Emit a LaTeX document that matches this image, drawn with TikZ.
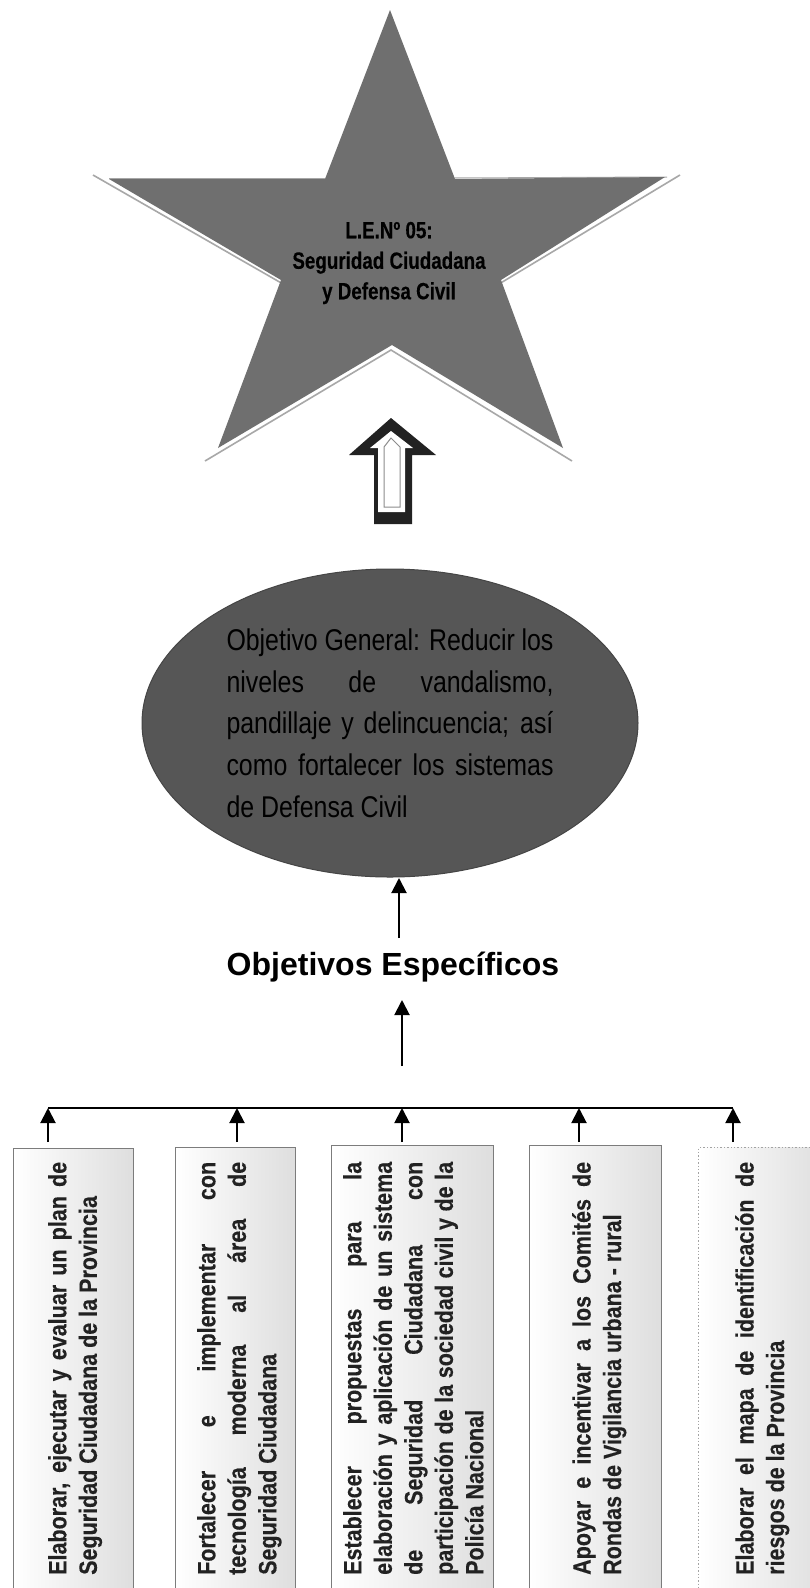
\documentclass[tikz,border=0pt]{standalone}
\usepackage{fontspec}
\setmainfont{Liberation Sans}
\newfontfamily\nr[FakeStretch=0.83]{Liberation Sans}
\newfontfamily\nrb[FakeStretch=0.86,FakeBold=0.25]{Liberation Sans Bold}
\newfontfamily\nrs[FakeStretch=0.8,FakeBold=0.25]{Liberation Sans Bold}
\usetikzlibrary{arrows.meta,shapes.geometric}
\definecolor{stargray}{HTML}{6F6F6F}
\definecolor{ellgray}{HTML}{565656}
\definecolor{shadowgray}{HTML}{A8A8A8}
\definecolor{boxedge}{HTML}{7C7C7C}
\definecolor{inkdark}{HTML}{222222}
\tikzset{
  conn/.style={draw=black,line width=2pt,-{Triangle[length=15pt,width=15pt]}},
  bus/.style={draw=black,line width=2pt},
  objbox/.style={draw=boxedge,line width=1.4pt,left color=white,right color=black!13,anchor=north west,inner sep=0pt},
  objtext/.style={rotate=90,anchor=north west,text width=413pt,inner sep=0pt,align=justify,text=inkdark,font=\nrb\fontsize{25}{30.5}\selectfont},
  goalnode/.style={ellipse,fill=ellgray,draw=ellgray!80!black,line width=1pt,minimum width=496pt,minimum height=308pt,inner sep=0pt,text width=327pt,align=justify,text=black,font=\nr\fontsize{30}{41.7}\selectfont},
  startext/.style={align=center,inner sep=0pt,text=black,font=\nrs\fontsize{23.5}{30.5}\selectfont},
  titletext/.style={inner sep=0pt,text=black,font=\bfseries\fontsize{32}{36}\selectfont},
}
\newcommand{\jset}{\tolerance=10000\hbadness=10000\hfuzz=30pt\hyphenpenalty=10000\exhyphenpenalty=10000\relax}
\begin{document}
\begin{tikzpicture}[x=1pt,y=-1pt]
\useasboundingbox (0,0) rectangle (810,1588);
\fill[white] (0,0) rectangle (810,1588);
% star shadow
\draw[shadowgray,line width=1.6pt,line join=miter] (93,175) -- (283,284);
\draw[shadowgray,line width=1.6pt,line join=miter] (205,461) -- (391,350) -- (572,461);
\draw[shadowgray,line width=1.6pt,line join=miter] (499,284) -- (680,175);
\draw[black!35,line width=1pt] (109,178) -- (325,178);
\draw[black!35,line width=1pt] (454,178) -- (667,177);
% star
\fill[stargray] (390,10) -- (455,179) -- (665,177) -- (501,280) -- (563,448) -- (392,345) -- (218,448) -- (281,280) -- (109,179) -- (325,179) -- cycle;
\node[startext] (startitle) at (389,263) {L.E.Nº 05:\\Seguridad Ciudadana\\y Defensa Civil};
% hollow arrow
\fill[inkdark] (391,418) -- (436,455) -- (412,455) -- (412,524) -- (374,524) -- (374,455) -- (349,455) -- cycle;
\fill[white] (391,431) -- (413,448) -- (405,448) -- (405,512) -- (378,512) -- (378,448) -- (370,448) -- cycle;
\draw[black!45,line width=1pt] (391,438) -- (400,447) -- (400,507) -- (384,507) -- (384,447) -- cycle;
% ellipse
\node[goalnode] (goal) at (390,723) {\jset Objetivo General: Reducir los\linebreak niveles de vandalismo,\linebreak pandillaje y delincuencia; así\linebreak como fortalecer los sistemas\linebreak de Defensa Civil};
% title
\node[titletext] (esp) at (393,967) {Objetivos Específicos};
\coordinate (g1) at (399,878);
\coordinate (g2) at (399,938);
\draw[conn] (g2) -- (g1);
\coordinate (e1) at (402,1000);
\coordinate (e2) at (402,1066);
\draw[conn] (e2) -- (e1);
% boxes
\node[objbox,minimum width=120pt,minimum height=460pt] (b1) at (13,1148) {};
\node[objbox,minimum width=120pt,minimum height=460pt] (b2) at (175,1147) {};
\node[objbox,minimum width=162pt,minimum height=460pt] (b3) at (331,1145) {};
\node[objbox,minimum width=132pt,minimum height=460pt] (b4) at (529,1145) {};
\node[objbox,draw=boxedge!70,dotted,minimum width=130pt,minimum height=460pt] (b5) at (698,1147) {};
% bus
\coordinate (h1) at (48,1108);
\coordinate (h2) at (237,1108);
\coordinate (h3) at (402,1108);
\coordinate (h4) at (579,1108);
\coordinate (h5) at (733,1108);
\draw[bus] (h1) -- (h5);
\coordinate (t1) at (48,1142);
\coordinate (t2) at (237,1142);
\coordinate (t3) at (402,1142);
\coordinate (t4) at (579,1142);
\coordinate (t5) at (733,1142);
\draw[conn] (t1) -- (h1);
\draw[conn] (t2) -- (h2);
\draw[conn] (t3) -- (h3);
\draw[conn] (t4) -- (h4);
\draw[conn] (t5) -- (h5);
% box texts
\node[objtext] (x1) at (48,1575) {\jset Elaborar, ejecutar y evaluar un plan de\linebreak Seguridad Ciudadana de la Provincia};
\node[objtext] (x2) at (197,1575) {\jset Fortalecer e implementar con\linebreak tecnología moderna al área de\linebreak Seguridad Ciudadana};
\node[objtext] (x3) at (343,1575) {\jset Establecer propuestas para la\linebreak elaboración y aplicación de un sistema\linebreak de Seguridad Ciudadana con\linebreak participación de la sociedad civil y de la\linebreak Policía Nacional};
\node[objtext] (x4) at (572,1575) {\jset Apoyar e incentivar a los Comités de\linebreak Rondas de Vigilancia urbana - rural};
\node[objtext] (x5) at (735,1575) {\jset Elaborar el mapa de identificación de\linebreak riesgos de la Provincia};
\end{tikzpicture}
\end{document}
